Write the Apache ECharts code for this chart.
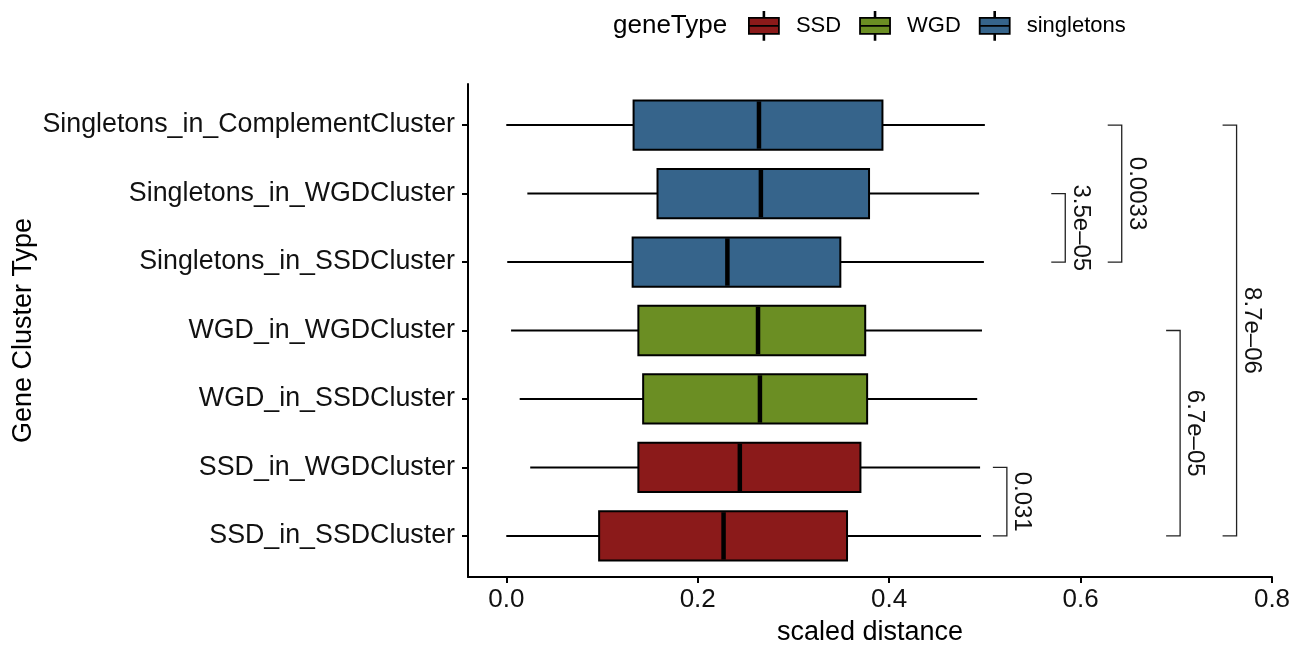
<!DOCTYPE html>
<html>
<head>
<meta charset="utf-8">
<script src="https://cdn.jsdelivr.net/npm/echarts@6/dist/echarts.min.js"></script>
<style>
html,body{margin:0;padding:0;background:#fff;}
#chart{width:1306px;height:652px;}
</style>
</head>
<body>
<div id="chart"></div>
<script>
// ---- data ----
const categories = [
  'Singletons_in_ComplementCluster',
  'Singletons_in_WGDCluster',
  'Singletons_in_SSDCluster',
  'WGD_in_WGDCluster',
  'WGD_in_SSDCluster',
  'SSD_in_WGDCluster',
  'SSD_in_SSDCluster'
];
const geneTypeOf = ['singletons','singletons','singletons','WGD','WGD','SSD','SSD'];
// [lower whisker, Q1, median, Q3, upper whisker]
const boxStats = [
  [0.000, 0.133, 0.264, 0.393, 0.500],
  [0.022, 0.158, 0.266, 0.379, 0.494],
  [0.001, 0.132, 0.231, 0.349, 0.499],
  [0.005, 0.138, 0.263, 0.375, 0.497],
  [0.014, 0.143, 0.265, 0.377, 0.492],
  [0.025, 0.138, 0.244, 0.370, 0.495],
  [0.000, 0.097, 0.227, 0.356, 0.496]
];
const geneTypes = ['SSD','WGD','singletons'];
const typeColors = ['#8B1A1A','#6B8E23','#36648B'];
// significance brackets: [from category, to category, x position, p-value label]
const bracketFrom = ['SSD_in_WGDCluster','Singletons_in_WGDCluster','Singletons_in_ComplementCluster','WGD_in_WGDCluster','Singletons_in_ComplementCluster'];
const bracketTo   = ['SSD_in_SSDCluster','Singletons_in_SSDCluster','Singletons_in_SSDCluster','SSD_in_SSDCluster','SSD_in_SSDCluster'];
const bracketX    = [0.523, 0.584, 0.643, 0.704, 0.763];
const bracketLabels = ['0.031','3.5e\u201305','0.0033','6.7e\u201305','8.7e\u201306'];
const xTicks = [0, 0.2, 0.4, 0.6, 0.8];

// ---- build ----
const FONT = '"Liberation Sans", Arial, Helvetica, sans-serif';
const BOX_WIDTH = 0.72;

function renderBox(params, api) {
  const y = api.value(0);
  const lo = api.coord([api.value(1), y]);
  const q1 = api.coord([api.value(2), y]);
  const md = api.coord([api.value(3), y]);
  const q3 = api.coord([api.value(4), y]);
  const hi = api.coord([api.value(5), y]);
  const h = Math.abs(api.size([0, BOX_WIDTH])[1]);
  const color = api.visual('color');
  return {
    type: 'group',
    children: [
      {type:'line', shape:{x1:lo[0], y1:lo[1], x2:q1[0], y2:q1[1]}, style:{stroke:'#000', lineWidth:2}},
      {type:'line', shape:{x1:q3[0], y1:q3[1], x2:hi[0], y2:hi[1]}, style:{stroke:'#000', lineWidth:2}},
      {type:'rect', shape:{x:q1[0], y:q1[1]-h/2, width:q3[0]-q1[0], height:h},
        style:{fill:color, stroke:'#000', lineWidth:2}},
      {type:'line', shape:{x1:md[0], y1:md[1]-h/2+1, x2:md[0], y2:md[1]+h/2-1}, style:{stroke:'#000', lineWidth:4.5}}
    ]
  };
}

function renderBracket(params, api) {
  const x = api.value(2);
  const a = api.coord([x, api.value(0)]);
  const b = api.coord([x, api.value(1)]);
  const tick = 14;
  const label = bracketLabels[params.dataIndex];
  return {
    type: 'group',
    children: [
      {type:'polyline', shape:{points:[[a[0]-tick, a[1]], [a[0], a[1]], [b[0], b[1]], [b[0]-tick, b[1]]]},
        style:{stroke:'#222', lineWidth:1.3, fill:null}},
      {type:'text', x: a[0] + 15, y: (a[1] + b[1]) / 2, rotation: -Math.PI/2,
        style:{text: label, font: '24px ' + FONT, fill:'#111', align:'center', verticalAlign:'middle'}}
    ]
  };
}

const series = geneTypes.map((g, gi) => ({
  name: g,
  type: 'custom',
  renderItem: renderBox,
  itemStyle: {color: typeColors[gi], borderColor:'#000', borderWidth:1.5},
  encode: {x: [1,2,3,4,5], y: 0},
  data: categories.map((c, ci) => geneTypeOf[ci] === g ? [ci].concat(boxStats[ci]) : null).filter(d => d)
}));
series.push({
  name: 'brackets',
  type: 'custom',
  renderItem: renderBracket,
  encode: {x: 2, y: [0,1]},
  data: bracketFrom.map((f, i) => [categories.indexOf(f), categories.indexOf(bracketTo[i]), bracketX[i]])
});

const catTicks = categories.map((c, i) => i);

const option = {
  backgroundColor: '#fff',
  animation: false,
  title: {
    text: 'geneType', left: 613, top: 13, padding: 0,
    textStyle: {fontFamily: FONT, fontSize: 26, fontWeight: 'normal', color: '#000'}
  },
  legend: {
    data: geneTypes,
    left: 748, top: 11, padding: 0,
    itemWidth: 30, itemHeight: 28, itemGap: 18,
    icon: 'path://M0,6 L30,6 L30,14 L0,14 Z M0,14 L30,14 L30,22 L0,22 Z M14.6,0 L15.4,0 L15.4,6 L14.6,6 Z M14.6,22 L15.4,22 L15.4,28 L14.6,28 Z',
    itemStyle: {borderColor: '#000', borderWidth: 1.8},
    textStyle: {fontFamily: FONT, fontSize: 22, color: '#000', padding: [0, 0, 0, 12]}
  },
  grid: {left: 468, top: 84, width: 804, height: 493, containLabel: false, outerBoundsMode: 'none'},
  xAxis: {
    type: 'value', min: -0.04, max: 0.8,
    name: 'scaled distance', nameLocation: 'middle', nameGap: 42,
    nameTextStyle: {fontFamily: FONT, fontSize: 27, color: '#000'},
    axisLine: {show: true, onZero: false, lineStyle: {color: '#000', width: 2}},
    axisTick: {show: true, length: 6, customValues: xTicks, lineStyle: {color: '#000', width: 2}},
    axisLabel: {customValues: xTicks, margin: 10, formatter: v => v.toFixed(1),
      fontFamily: FONT, fontSize: 26, color: '#111'},
    splitLine: {show: false}
  },
  yAxis: {
    type: 'value', min: -0.6, max: 6.6, inverse: true,
    name: 'Gene Cluster Type', nameLocation: 'middle', nameGap: 431, nameRotate: 90,
    nameMoveOverlap: false,
    nameTextStyle: {fontFamily: FONT, fontSize: 27, color: '#000'},
    axisLine: {show: true, onZero: false, lineStyle: {color: '#000', width: 2}},
    axisTick: {show: true, length: 6, customValues: catTicks, lineStyle: {color: '#000', width: 2}},
    axisLabel: {customValues: catTicks, margin: 13, formatter: v => categories[Math.round(v)] || '',
      fontFamily: FONT, fontSize: 26.8, color: '#111'},
    splitLine: {show: false}
  },
  series: series
};

const chart = echarts.init(document.getElementById('chart'), null, {renderer: 'canvas'});
chart.setOption(option);
</script>
</body>
</html>
